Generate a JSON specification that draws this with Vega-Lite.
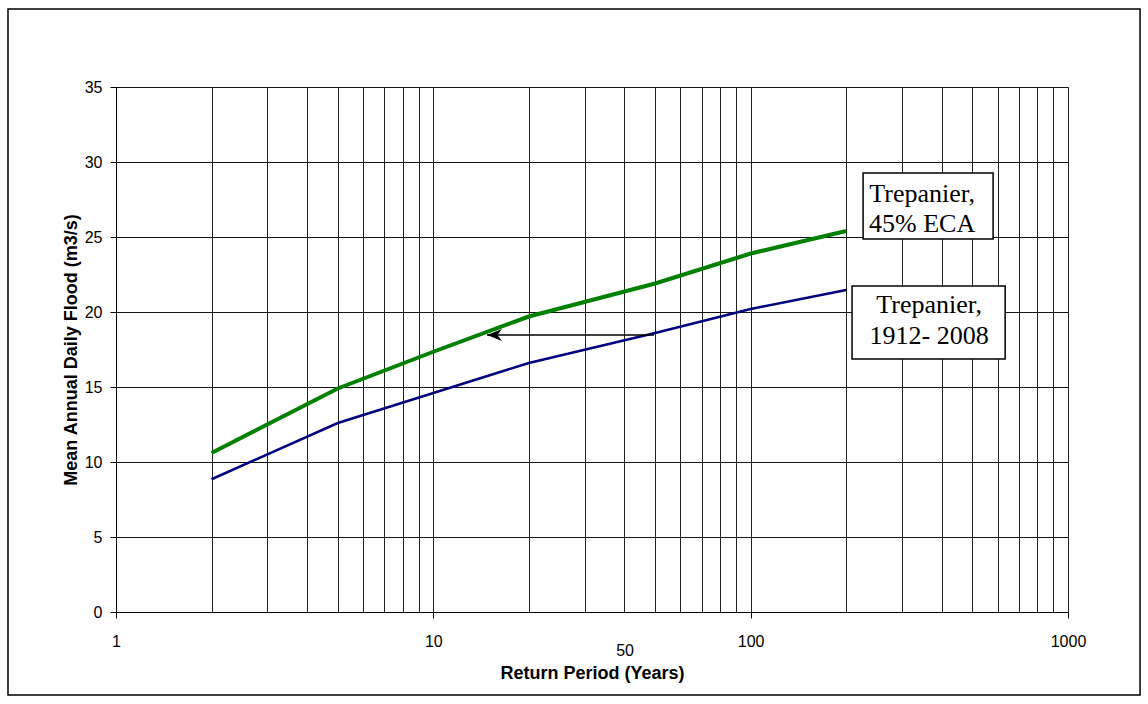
{
  "$schema": "https://vega.github.io/schema/vega-lite/v6.json",
  "autosize": "none",
  "width": 952,
  "height": 525,
  "padding": {"left": 116, "top": 87, "right": 80, "bottom": 92},
  "background": "white",
  "config": {
    "view": {"stroke": null},
    "font": "Liberation Sans"
  },
  "datasets": {
    "curves": [
      {"T": 2, "Q": 10.6, "series": "Trepanier, 45% ECA"},
      {"T": 5, "Q": 14.9, "series": "Trepanier, 45% ECA"},
      {"T": 10, "Q": 17.35, "series": "Trepanier, 45% ECA"},
      {"T": 20, "Q": 19.7, "series": "Trepanier, 45% ECA"},
      {"T": 50, "Q": 21.9, "series": "Trepanier, 45% ECA"},
      {"T": 100, "Q": 23.9, "series": "Trepanier, 45% ECA"},
      {"T": 200, "Q": 25.4, "series": "Trepanier, 45% ECA"},
      {"T": 2, "Q": 8.85, "series": "Trepanier, 1912- 2008"},
      {"T": 5, "Q": 12.6, "series": "Trepanier, 1912- 2008"},
      {"T": 10, "Q": 14.6, "series": "Trepanier, 1912- 2008"},
      {"T": 20, "Q": 16.6, "series": "Trepanier, 1912- 2008"},
      {"T": 50, "Q": 18.6, "series": "Trepanier, 1912- 2008"},
      {"T": 100, "Q": 20.2, "series": "Trepanier, 1912- 2008"},
      {"T": 200, "Q": 21.47, "series": "Trepanier, 1912- 2008"}
    ],
    "frame": [{"x1": 0.4567, "x2": 1687, "y1": 40.2, "y2": -5.53}],
    "arrow": [{"from": 49.6, "to": 14.76, "Q": 18.47}],
    "boxes": [
      {"x1": 226.1, "x2": 580.7, "y1": 29.27, "y2": 24.87, "tx": 346.9, "ty": 27.35, "label": "Trepanier,\n45% ECA"},
      {"x1": 208.7, "x2": 633.8, "y1": 21.73, "y2": 16.87, "tx": 365, "ty": 19.91, "label": "Trepanier,\n1912- 2008"}
    ],
    "extra": [{"T": 40.2, "Q": -2.95, "label": "50"}]
  },
  "layer": [
    {
      "data": {"name": "frame"},
      "mark": {"type": "rect", "fill": null, "stroke": "#000", "strokeWidth": 1.5},
      "encoding": {
        "x": {"field": "x1", "type": "quantitative", "scale": {"type": "log", "domain": [1, 1000], "nice": false},
          "axis": {
            "values": [1,2,3,4,5,6,7,8,9,10,20,30,40,50,60,70,80,90,100,200,300,400,500,600,700,800,900,1000],
            "title": "Return Period (Years)",
            "titleFont": "Liberation Sans", "titleFontSize": 18, "titleFontWeight": "bold", "titleColor": "#000",
            "titleBaseline": "alphabetic", "titleX": 476, "titleY": 66,
            "labelFont": "Liberation Sans", "labelFontSize": 16, "labelColor": "#000",
            "labelExpr": "indexof([1,10,100,1000], datum.value) >= 0 ? format(datum.value, 'd') : ''",
            "labelBaseline": "alphabetic", "labelPadding": 28, "labelFlush": false, "labelOverlap": false,
            "grid": true, "gridColor": "#222", "gridWidth": 1, "gridOpacity": 1,
            "domainColor": "#000", "domainWidth": 1,
            "tickColor": "#000", "tickSize": 6,
            "tickOpacity": {"condition": {"test": "indexof([1,10,100,1000], datum.value) >= 0", "value": 1}, "value": 0}
          }},
        "x2": {"field": "x2"},
        "y": {"field": "y1", "type": "quantitative", "scale": {"domain": [0, 35], "nice": false, "zero": true},
          "axis": {
            "values": [0,5,10,15,20,25,30,35],
            "title": "Mean Annual Daily Flood (m3/s)",
            "titleFont": "Liberation Sans", "titleFontSize": 18, "titleFontWeight": "bold", "titleColor": "#000",
            "titleBaseline": "alphabetic", "titleAngle": 270, "titleX": -40, "titleY": 262.5, "titleAlign": "center",
            "labelFont": "Liberation Sans", "labelFontSize": 16, "labelColor": "#000", "labelPadding": 8,
            "labelFlush": false, "labelOverlap": false,
            "grid": true, "gridColor": "#111", "gridWidth": 1, "gridOpacity": 1,
            "domainColor": "#000", "domainWidth": 1,
            "tickColor": "#000", "tickSize": 6
          }},
        "y2": {"field": "y2"}
      }
    },
    {
      "data": {"name": "curves"},
      "mark": {"type": "line", "interpolate": "linear"},
      "encoding": {
        "x": {"field": "T", "type": "quantitative"},
        "y": {"field": "Q", "type": "quantitative"},
        "color": {"field": "series", "type": "nominal", "scale": {"domain": ["Trepanier, 45% ECA", "Trepanier, 1912- 2008"], "range": ["#008000", "#000080"]}, "legend": null},
        "strokeWidth": {"field": "series", "type": "nominal", "scale": {"domain": ["Trepanier, 45% ECA", "Trepanier, 1912- 2008"], "range": [4, 2.5]}, "legend": null}
      }
    },
    {
      "data": {"name": "arrow"},
      "mark": {"type": "rule", "color": "#000", "strokeWidth": 1.5},
      "encoding": {
        "x": {"field": "from", "type": "quantitative"},
        "x2": {"field": "to"},
        "y": {"field": "Q", "type": "quantitative"}
      }
    },
    {
      "data": {"name": "arrow"},
      "mark": {"type": "point", "shape": "M 0 0 L 2 -0.8 L 1.4 0 L 2 0.8 Z", "filled": true, "color": "#000", "size": 225, "opacity": 1, "strokeWidth": 0},
      "encoding": {
        "x": {"field": "to", "type": "quantitative"},
        "y": {"field": "Q", "type": "quantitative"}
      }
    },
    {
      "data": {"name": "boxes"},
      "mark": {"type": "rect", "fill": "#fff", "stroke": "#000", "strokeWidth": 1.5},
      "encoding": {
        "x": {"field": "x1", "type": "quantitative"},
        "x2": {"field": "x2"},
        "y": {"field": "y1", "type": "quantitative"},
        "y2": {"field": "y2"}
      }
    },
    {
      "data": {"name": "boxes"},
      "mark": {"type": "text", "font": "Liberation Serif", "fontSize": 26, "lineHeight": 30.5, "lineBreak": "\n", "align": "center", "baseline": "alphabetic", "color": "#000"},
      "encoding": {
        "x": {"field": "tx", "type": "quantitative"},
        "y": {"field": "ty", "type": "quantitative"},
        "text": {"field": "label"}
      }
    },
    {
      "data": {"name": "extra"},
      "mark": {"type": "text", "font": "Liberation Sans", "fontSize": 16, "align": "center", "baseline": "alphabetic", "color": "#000"},
      "encoding": {
        "x": {"field": "T", "type": "quantitative"},
        "y": {"field": "Q", "type": "quantitative"},
        "text": {"field": "label"}
      }
    }
  ]
}
